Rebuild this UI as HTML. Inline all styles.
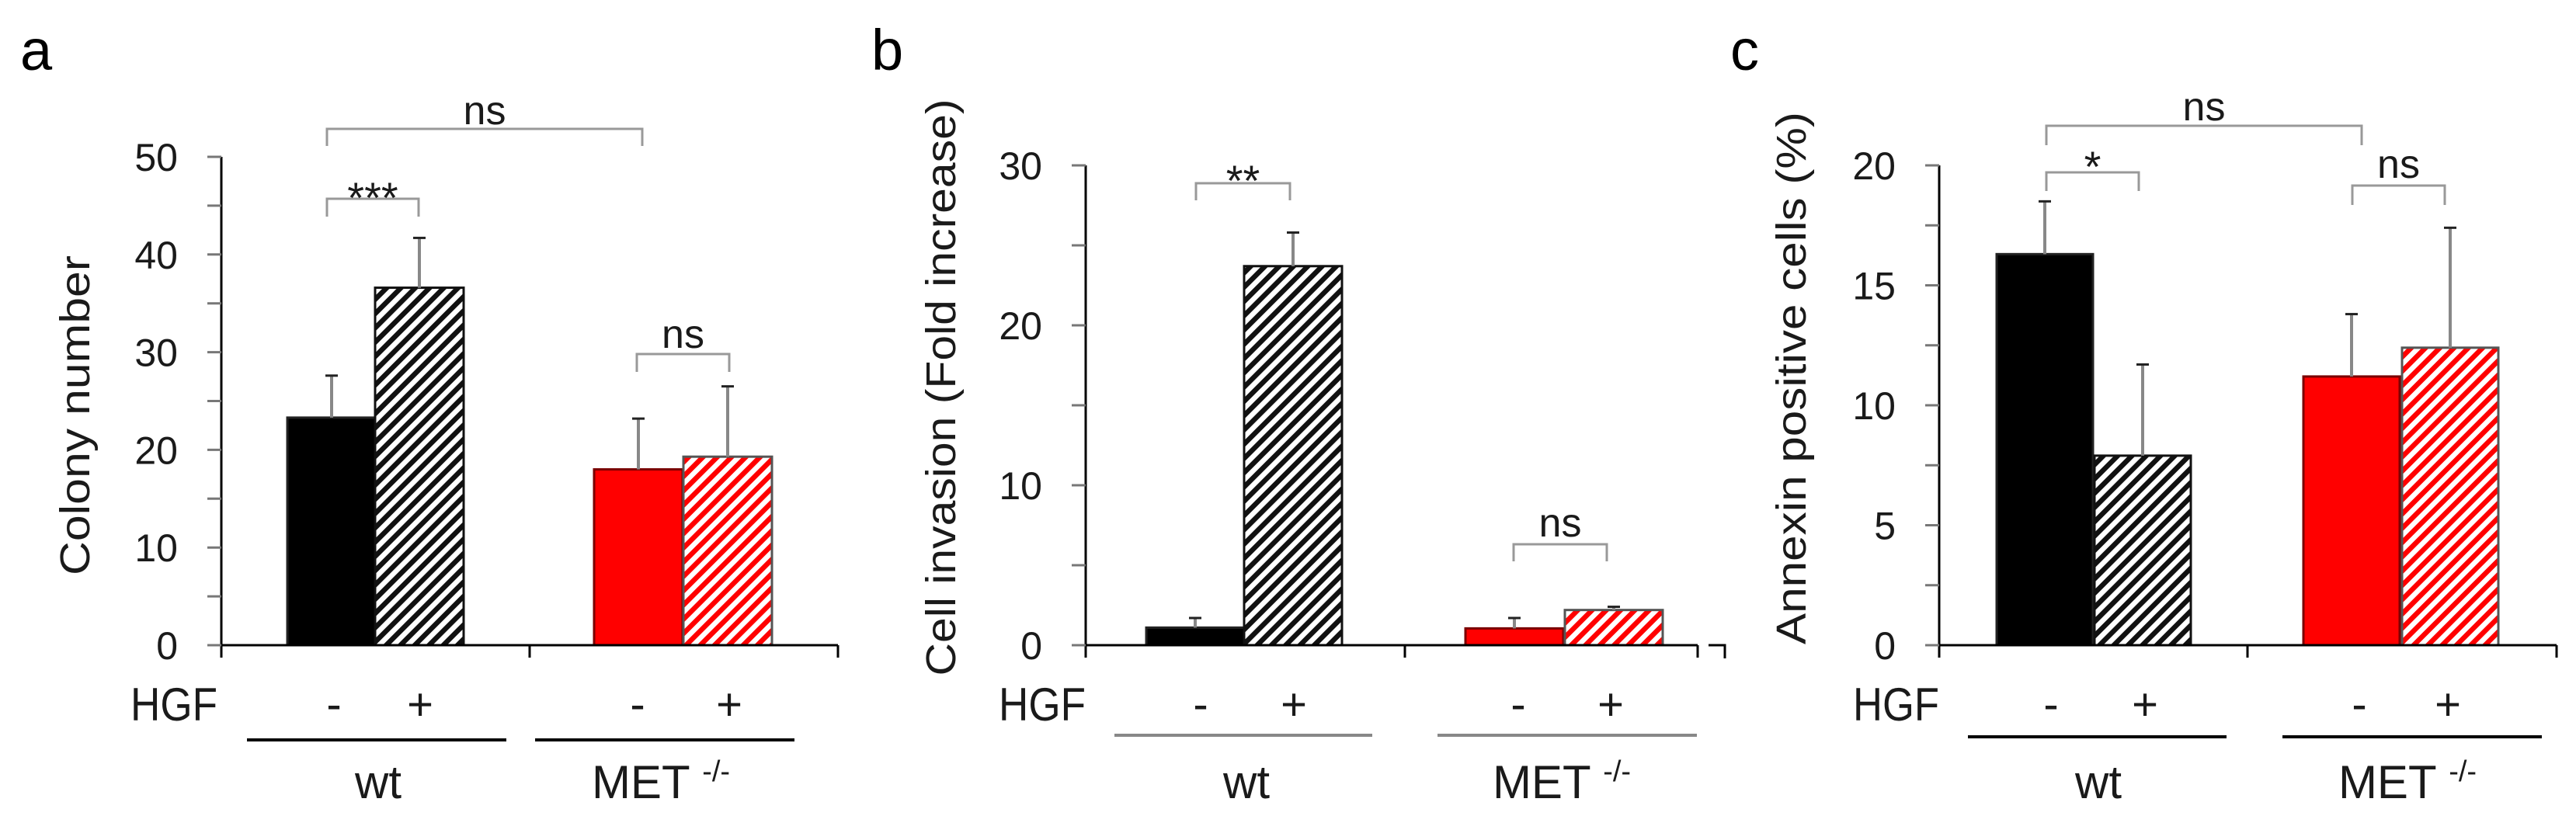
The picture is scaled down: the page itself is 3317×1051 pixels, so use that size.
<!DOCTYPE html>
<html><head><meta charset="utf-8"><style>
html,body{margin:0;padding:0;background:#fff;}
svg{display:block;font-family:"Liberation Sans",sans-serif;}
</style></head><body>
<svg id="fig" width="3317" height="1051" viewBox="0 0 3317 1051" xmlns="http://www.w3.org/2000/svg">
<defs>
<pattern id="hatchK" patternUnits="userSpaceOnUse" width="13" height="13" patternTransform="rotate(45)">
<rect width="13" height="13" fill="#fff"/><rect width="6.5" height="13" fill="#111"/></pattern>
<pattern id="hatchR" patternUnits="userSpaceOnUse" width="13" height="13" patternTransform="rotate(45)">
<rect width="13" height="13" fill="#fff"/><rect width="6.5" height="13" fill="#f00"/></pattern>
</defs>
</svg>
<script>
// Panel a data
const aCategories = ["wt -", "wt +", "MET -", "MET +"];
const aValues = [23.3, 36.6, 18.0, 19.3];
const aErrors = [4.3, 5.1, 5.2, 7.2];
const aTicks = [0, 10, 20, 30, 40, 50];
// Panel b data
const bCategories = ["wt -", "wt +", "MET -", "MET +"];
const bValues = [1.1, 23.7, 1.05, 2.2];
const bErrors = [0.6, 2.1, 0.65, 0.2];
const bTicks = [0, 10, 20, 30];
// Panel c data
const cCategories = ["wt -", "wt +", "MET -", "MET +"];
const cValues = [16.3, 7.9, 11.2, 12.4];
const cErrors = [2.2, 3.8, 2.6, 5.0];
const cTicks = [0, 5, 10, 15, 20];

const NS = "http://www.w3.org/2000/svg";
const svg = document.getElementById("fig");
function mk(tag, attrs, parent, text) {
  const e = document.createElementNS(NS, tag);
  for (const k in attrs) e.setAttribute(k, attrs[k]);
  if (text !== undefined) e.textContent = text;
  (parent || svg).appendChild(e);
  return e;
}
const TXT = "#1a1a1a";

function panel(cfg, categories, values, errors, ticks) {
  const g = mk("g", {});
  
  
  const y0 = 831, yTop = cfg.yTop, max = ticks[ticks.length - 1];
  const y = v => y0 - (v / max) * (y0 - yTop);
  const L = mk("text", {x: cfg.letterX, y: 90, "font-size": 74, fill: "#000"}, g, cfg.letter);
  
  
  const tt = mk("text", {x: 0, y: 0, "font-size": 54, fill: TXT, "text-anchor": "middle",
    transform: `translate(${cfg.titleX},${cfg.titleY}) rotate(-90)`, textLength: cfg.titleLen, lengthAdjust: "spacingAndGlyphs"}, g, cfg.title);
  
  
  const fills = ["#000", "url(#hatchK)", "#f00", "url(#hatchR)"];
  const strokes = ["#222", "#111", "#7a0000", "#555"];
  categories.forEach((c, i) => {
    const bx = cfg.barX[i], bw = cfg.barW;
    const top = y(values[i]);
    const r = mk("rect", {x: bx, y: top, width: bw, height: y0 - top, fill: fills[i], stroke: strokes[i], "stroke-width": 3}, g);
    
    
    const cx = bx + bw / 2, et = y(values[i] + errors[i]);
    const el = mk("line", {x1: cx, x2: cx, y1: top, y2: et, stroke: "#888", "stroke-width": 4}, g);
    
    
    const ec = mk("line", {x1: cx - 8, x2: cx + 8, y1: et, y2: et, stroke: "#222", "stroke-width": 3}, g);
    
    
  });
  const ax = mk("line", {x1: cfg.axisX, x2: cfg.axisX, y1: yTop, y2: y0 + 16, stroke: "#000", "stroke-width": 3}, g);
  
  
  const xa = mk("line", {x1: cfg.axisX, x2: cfg.axisEnd, y1: y0, y2: y0, stroke: "#000", "stroke-width": 3}, g);
  
  
  [cfg.midTick, cfg.axisEnd].forEach(tx => {
    const t = mk("line", {x1: tx, x2: tx, y1: y0, y2: y0 + 16, stroke: "#000", "stroke-width": 3}, g);
    
    
  });
  const step = ticks[1] - ticks[0];
  for (let v = 0; v <= max + 1e-9; v += step / 2) {
    const t = mk("line", {x1: cfg.axisX - 18, x2: cfg.axisX, y1: y(v), y2: y(v), stroke: "#777", "stroke-width": 3}, g);
    
    
  }
  ticks.forEach(v => {
    const t = mk("text", {x: cfg.axisX - 56, y: y(v) + 18, "font-size": 50, fill: TXT, "text-anchor": "end"}, g, String(v));
    
    
  });
  const h = mk("text", {x: cfg.hgfX, y: 928, "font-size": 60, fill: TXT, textLength: cfg.hgfW, lengthAdjust: "spacingAndGlyphs"}, g, "HGF");
  
  
  cfg.signX.forEach((sx, i) => {
    const s = mk("text", {x: sx, y: 927, "font-size": 58, fill: TXT, "text-anchor": "middle"}, g, i % 2 ? "+" : "-");
    
    
  });
  cfg.under.forEach(u => {
    const l = mk("line", {x1: u[0], x2: u[1], y1: cfg.underY, y2: cfg.underY, stroke: cfg.underColor, "stroke-width": 4}, g);
    
    
  });
  const w = mk("text", {x: cfg.wtX, y: 1028, "font-size": 60, fill: TXT, "text-anchor": "middle"}, g, "wt");
  
  
  const m = mk("text", {x: cfg.metX, y: 1028, "font-size": 60, fill: TXT, "text-anchor": "middle"}, g);
  
  
  m.appendChild(document.createTextNode("MET "));
  mk("tspan", {"font-size": 38, dy: -22}, m, "-/-");
  cfg.brackets.forEach(b => {
    const p = mk("path", {d: `M${b.x1},${b.yb} L${b.x1},${b.yt} L${b.x2},${b.yt} L${b.x2},${b.yb}`, fill: "none", stroke: "#999", "stroke-width": 3}, g);
    
    
    const isNs = b.label === "ns";
    const t = mk("text", {x: (b.x1 + b.x2) / 2, y: isNs ? b.ty : b.ty + 12, "font-size": isNs ? 52 : 56, fill: TXT, "text-anchor": "middle"}, g, b.label);
    
    
  });
}

panel({name: "panel-a", letter: "a", letterX: 26, yTop: 202, axisX: 285, axisEnd: 1079, midTick: 682,
  title: "Colony number", titleX: 115, titleY: 535, titleLen: 412,
  barX: [370, 483, 765, 880], barW: 114, hgfX: 168, hgfW: 112, signX: [430, 541, 821, 939],
  under: [[318, 652], [689, 1023]], underY: 953, underColor: "#000", wtX: 487, metX: 851,
  brackets: [
    {x1: 421, x2: 827, yt: 166, yb: 188, ty: 160, label: "ns"},
    {x1: 421, x2: 539, yt: 256, yb: 279, ty: 262, label: "***"},
    {x1: 820, x2: 939, yt: 456, yb: 479, ty: 448, label: "ns"}]
}, aCategories, aValues, aErrors, aTicks);

panel({name: "panel-b", letter: "b", letterX: 1122, yTop: 213, axisX: 1398, axisEnd: 2186, midTick: 1809,
  title: "Cell invasion (Fold increase)", titleX: 1230, titleY: 499, titleLen: 743,
  barX: [1476, 1602, 1887, 2015], barW: 126, hgfX: 1286, hgfW: 112, signX: [1546, 1666, 1955, 2074],
  under: [[1435, 1767], [1851, 2185]], underY: 947, underColor: "#888", wtX: 1605, metX: 2011,
  brackets: [
    {x1: 1540, x2: 1661, yt: 236, yb: 258, ty: 240, label: "**"},
    {x1: 1949, x2: 2069, yt: 701, yb: 723, ty: 691, label: "ns"}]
}, bCategories, bValues, bErrors, bTicks);

panel({name: "panel-c", letter: "c", letterX: 2228, yTop: 213, axisX: 2497, axisEnd: 3292, midTick: 2894,
  title: "Annexin positive cells (%)", titleX: 2325, titleY: 487, titleLen: 686,
  barX: [2571, 2697, 2966, 3093], barW: 124, hgfX: 2386, hgfW: 111, signX: [2641, 2762, 3038, 3152],
  under: [[2534, 2867], [2939, 3273]], underY: 949, underColor: "#000", wtX: 2702, metX: 3100,
  brackets: [
    {x1: 2635, x2: 3041, yt: 162, yb: 187, ty: 155, label: "ns"},
    {x1: 2635, x2: 2754, yt: 222, yb: 246, ty: 222, label: "*"},
    {x1: 3029, x2: 3148, yt: 239, yb: 264, ty: 229, label: "ns"}]
}, cCategories, cValues, cErrors, cTicks);

const stub = mk("path", {d: "M2200,831 L2221,831 L2221,848", fill: "none", stroke: "#000", "stroke-width": 3});


</script>
</body></html>
